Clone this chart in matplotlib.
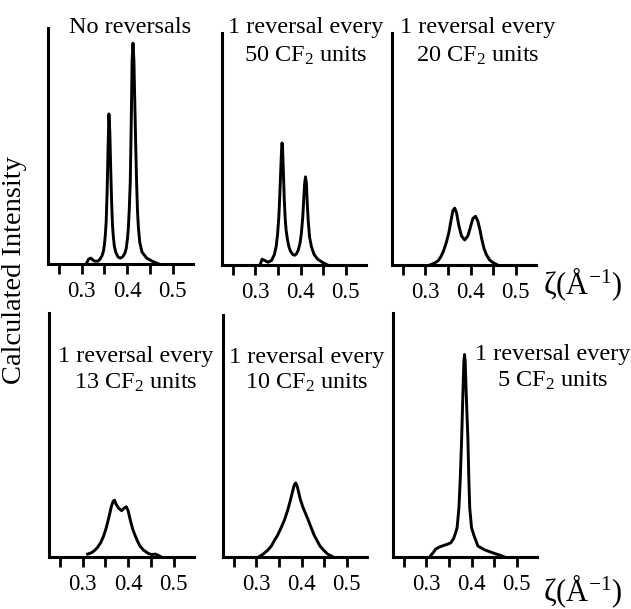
import matplotlib
matplotlib.use("Agg")
import matplotlib.pyplot as plt

plt.rcParams['font.family'] = ['Liberation Serif', 'DejaVu Serif']
plt.rcParams['mathtext.fontset'] = 'custom'
plt.rcParams['mathtext.rm'] = 'Liberation Serif'
plt.rcParams['mathtext.it'] = 'Liberation Serif:italic'

# ---- data ----
tick_positions = [0.25, 0.30, 0.35, 0.40, 0.45, 0.50]
tick_labels = ["", "0.3", "", "0.4", "", "0.5"]

titles = [
    ["No reversals"],
    ["1 reversal every", "50 CF$_{\\mathregular{2}}$ units"],
    ["1 reversal every", "20 CF$_{\\mathregular{2}}$ units"],
    ["1 reversal every", "13 CF$_{\\mathregular{2}}$ units"],
    ["1 reversal every", "10 CF$_{\\mathregular{2}}$ units"],
    ["1 reversal every", "5 CF$_{\\mathregular{2}}$ units"],
]

z_none = [0.310, 0.315, 0.320, 0.328, 0.336, 0.340, 0.345, 0.348, 0.350, 0.352, 0.354, 0.356,
          0.358, 0.360, 0.362, 0.364, 0.366, 0.368, 0.370, 0.372, 0.375, 0.380, 0.385, 0.390,
          0.395, 0.398, 0.401, 0.403, 0.405, 0.407, 0.409, 0.411, 0.413, 0.415, 0.417, 0.419,
          0.421, 0.423, 0.425, 0.428, 0.433, 0.443, 0.455, 0.470]
i_none = [0.000, 0.020, 0.025, 0.012, 0.012, 0.020, 0.035, 0.055, 0.080, 0.120, 0.180, 0.300,
          0.480, 0.636, 0.560, 0.400, 0.260, 0.160, 0.110, 0.075, 0.050, 0.030, 0.025, 0.030,
          0.045, 0.065, 0.110, 0.160, 0.240, 0.350, 0.580, 0.860, 0.936, 0.860, 0.680, 0.500,
          0.340, 0.220, 0.150, 0.090, 0.050, 0.025, 0.012, 0.000]

z_50 = [0.310, 0.315, 0.320, 0.328, 0.336, 0.342, 0.346, 0.349, 0.352, 0.354, 0.356, 0.358,
        0.359, 0.360, 0.362, 0.364, 0.366, 0.368, 0.371, 0.374, 0.378, 0.383, 0.387, 0.391,
        0.395, 0.399, 0.402, 0.405, 0.407, 0.409, 0.411, 0.413, 0.415, 0.417, 0.420, 0.424,
        0.430, 0.438, 0.448, 0.460]
i_50 = [0.000, 0.025, 0.020, 0.012, 0.020, 0.045, 0.080, 0.130, 0.210, 0.300, 0.400, 0.500,
        0.526, 0.510, 0.400, 0.280, 0.200, 0.150, 0.110, 0.080, 0.058, 0.045, 0.042, 0.048,
        0.065, 0.095, 0.140, 0.210, 0.280, 0.350, 0.380, 0.350, 0.260, 0.190, 0.120, 0.080,
        0.045, 0.025, 0.012, 0.000]

z_20 = [0.310, 0.320, 0.328, 0.334, 0.340, 0.346, 0.352, 0.357, 0.361, 0.365, 0.369, 0.374,
        0.380, 0.387, 0.394, 0.400, 0.405, 0.411, 0.416, 0.421, 0.425, 0.430, 0.435, 0.442,
        0.450, 0.460]
i_20 = [0.000, 0.008, 0.018, 0.035, 0.060, 0.095, 0.140, 0.195, 0.235, 0.245, 0.225, 0.170,
        0.125, 0.108, 0.125, 0.165, 0.200, 0.210, 0.190, 0.150, 0.110, 0.070, 0.045, 0.022,
        0.010, 0.000]

z_13 = [0.311, 0.320, 0.327, 0.333, 0.340, 0.346, 0.352, 0.358, 0.363, 0.367, 0.370, 0.374,
        0.379, 0.386, 0.391, 0.396, 0.400, 0.405, 0.410, 0.415, 0.420, 0.426, 0.434, 0.445,
        0.452, 0.460, 0.468, 0.473]
i_13 = [0.012, 0.018, 0.028, 0.040, 0.060, 0.085, 0.120, 0.165, 0.205, 0.228, 0.233, 0.215,
        0.200, 0.190, 0.200, 0.206, 0.190, 0.150, 0.115, 0.090, 0.068, 0.045, 0.028, 0.014,
        0.010, 0.012, 0.005, 0.000]

z_10 = [0.305, 0.315, 0.325, 0.333, 0.340, 0.347, 0.354, 0.362, 0.369, 0.375, 0.380, 0.384,
        0.387, 0.390, 0.393, 0.397, 0.403, 0.409, 0.415, 0.422, 0.428, 0.434, 0.441, 0.449,
        0.458, 0.470]
i_10 = [0.000, 0.012, 0.028, 0.045, 0.069, 0.090, 0.118, 0.152, 0.192, 0.232, 0.270, 0.298,
        0.306, 0.295, 0.272, 0.240, 0.206, 0.179, 0.152, 0.118, 0.090, 0.069, 0.045, 0.028,
        0.012, 0.000]

z_5 = [0.307, 0.315, 0.321, 0.330, 0.338, 0.346, 0.354, 0.360, 0.364, 0.368, 0.372, 0.375,
       0.378, 0.381, 0.383, 0.3845, 0.386, 0.388, 0.392, 0.394, 0.396, 0.400, 0.405, 0.409,
       0.414, 0.428, 0.450, 0.462, 0.473]
i_5 = [0.000, 0.018, 0.033, 0.042, 0.047, 0.052, 0.058, 0.075, 0.095, 0.120, 0.200, 0.320,
       0.480, 0.680, 0.800, 0.830, 0.800, 0.680, 0.480, 0.320, 0.200, 0.120, 0.090, 0.070,
       0.045, 0.030, 0.015, 0.008, 0.000]

series = [(z_none, i_none), (z_50, i_50), (z_20, i_20),
          (z_13, i_13), (z_10, i_10), (z_5, i_5)]

# ---- layout (pixels) ----
W, H = 631, 609
fig = plt.figure(figsize=(W / 100, H / 100), dpi=100)

# left, top, right, bottom in pixels
boxes = [(48, 28, 193, 264), (222, 33, 366, 265), (392, 33, 536, 265),
         (49, 313, 194, 557), (223, 315, 367, 557), (393, 313, 537, 557)]
title_pos = [  # centre x, baselines y of the lines
    (130, (33,)), (306, (33, 62)), (478, (33, 62)),
    (136, (362, 389)), (307, (363, 389)), (553, (360, 387))]

for k, ((l, t, r, b), (zz, ii)) in enumerate(zip(boxes, series)):
    ax = fig.add_axes([l / W, 1 - b / H, (r - l) / W, (b - t) / H])
    ax.plot(zz, ii, color='black', lw=2.1, solid_joinstyle='round')
    ax.set_xlim(0.226, 0.545)
    ax.set_ylim(0, 1)
    for s in ('top', 'right'):
        ax.spines[s].set_visible(False)
    for s in ('left', 'bottom'):
        ax.spines[s].set_linewidth(2.2)
    ax.set_yticks([])
    ax.set_xticks(tick_positions)
    ax.set_xticklabels(tick_labels, fontsize=16.5)
    ax.tick_params(axis='x', direction='out', length=7, width=2.0, pad=5)
    cx, bys = title_pos[k]
    for line, by in zip(titles[k], bys):
        fig.text(cx / W, 1 - by / H, line, ha='center', va='baseline',
                 fontsize=17.5)

fig.text(15 / W, 1 - 270 / H, "Calculated Intensity", rotation=90,
         ha='center', va='center', fontsize=20.5)
zlabel = "ζ(Å$^{\\mathregular{-1}}$)"
fig.text(583 / W, 1 - 284 / H, zlabel, ha='center', va='center', fontsize=22)
fig.text(583 / W, 1 - 591 / H, zlabel, ha='center', va='center', fontsize=22)

fig.savefig("out.png", dpi=100)
